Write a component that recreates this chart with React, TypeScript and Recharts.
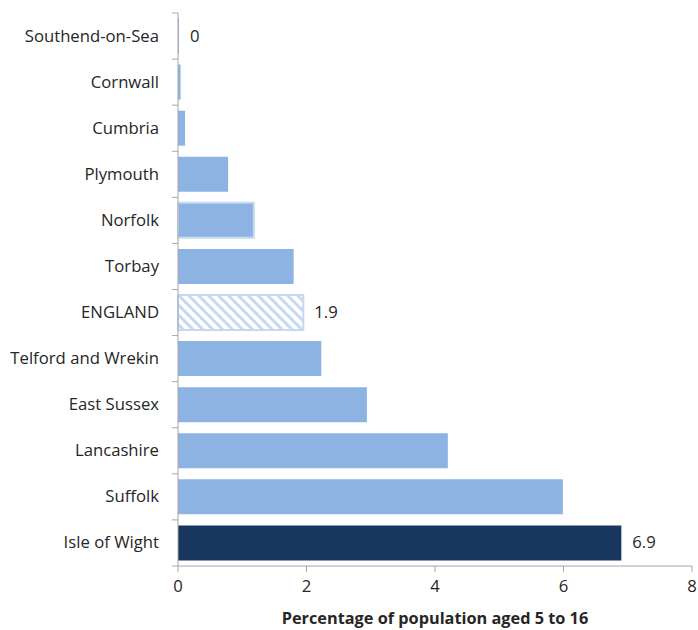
import React from "react";
import { BarChart, Bar, XAxis, YAxis, Cell, LabelList } from "recharts";

const categories = [
  "Southend-on-Sea",
  "Cornwall",
  "Cumbria",
  "Plymouth",
  "Norfolk",
  "Torbay",
  "ENGLAND",
  "Telford and Wrekin",
  "East Sussex",
  "Lancashire",
  "Suffolk",
  "Isle of Wight",
];
const values = [0.015, 0.04, 0.11, 0.78, 1.18, 1.8, 1.95, 2.23, 2.94, 4.2, 5.99, 6.9];
const valueLabels = ["0", "", "", "", "", "", "1.9", "", "", "", "", "6.9"];
const xTicks = [0, 2, 4, 6, 8];
const xTitle = "Percentage of population  aged 5 to 16";

const data = categories.map((name, i) => ({ name, value: values[i], label: valueLabels[i] }));

const W = 698;
const H = 630;
const TOP = 13;
const BOTTOM_AXIS = 64;
const LEFT = 178;
const FONT = "'Open Sans', 'Noto Sans', sans-serif";
const TEXT = "#262626";
const AXIS = "#A6A6A6";
const LIGHT = "#8DB3E2";
const DARK = "#17375E";
const PALE = "#C6D9F1";

const band = (H - BOTTOM_AXIS - TOP) / categories.length;

const YTick = (props: any) => {
  const { x, y, payload, index } = props;
  const lines = [
    <line key="t" x1={LEFT - 6} x2={LEFT} y1={y - band / 2} y2={y - band / 2} stroke={AXIS} />,
  ];
  if (index === categories.length - 1) {
    lines.push(
      <line key="b" x1={LEFT - 6} x2={LEFT} y1={y + band / 2} y2={y + band / 2} stroke={AXIS} />
    );
  }
  return (
    <g>
      {lines}
      <text x={x - 11} y={y} dy={5.5} textAnchor="end" fontSize={16.7} fill={TEXT} fontFamily={FONT}>
        {payload.value}
      </text>
    </g>
  );
};

const renderLabel = (props: any) => {
  const { x, y, width, height, index } = props;
  const t = valueLabels[index];
  if (!t) return null;
  return (
    <text x={x + width + 11} y={y + height / 2} dy={5.5} fontSize={16.7} fill={TEXT} fontFamily={FONT}>
      {t}
    </text>
  );
};

export default function App() {
  return (
    <div style={{ position: "absolute", left: 0, top: 0, background: "#fff" }}>
      <BarChart
        width={W}
        height={H}
        data={data}
        layout="vertical"
        margin={{ top: TOP, right: 6, bottom: 0, left: 0 }}
        barCategoryGap="12%"
      >
        <defs>
          <pattern
            id="hatch"
            width="7"
            height="7"
            patternUnits="userSpaceOnUse"
            patternTransform="rotate(-45)"
          >
            <rect width="7" height="7" fill="#ffffff" />
            <rect width="3" height="7" fill={PALE} />
          </pattern>
        </defs>
        <XAxis
          type="number"
          domain={[0, 8]}
          ticks={xTicks}
          height={BOTTOM_AXIS}
          stroke={AXIS}
          tickLine={{ stroke: AXIS }}
          tickSize={6}
          tick={{ fill: TEXT, fontSize: 16.7, fontFamily: FONT }}
          tickMargin={8}
          label={{
            value: xTitle,
            position: "insideBottom",
            offset: 6,
            fill: TEXT,
            fontSize: 16.3,
            fontWeight: 700,
            fontFamily: FONT,
          }}
        />
        <YAxis
          type="category"
          dataKey="name"
          width={LEFT}
          stroke={AXIS}
          tickLine={false}
          tick={<YTick />}
          interval={0}
        />
        <Bar dataKey="value" isAnimationActive={false}>
          {data.map((d, i) => {
            const isEng = d.name === "ENGLAND";
            const isIow = d.name === "Isle of Wight";
            const isNor = d.name === "Norfolk";
            return (
              <Cell
                key={i}
                fill={isEng ? "url(#hatch)" : isIow ? DARK : LIGHT}
                stroke={isEng || isNor ? PALE : "none"}
                strokeWidth={isEng || isNor ? 2 : 0}
              />
            );
          })}
          <LabelList dataKey="label" content={renderLabel} />
        </Bar>
      </BarChart>
    </div>
  );
}
